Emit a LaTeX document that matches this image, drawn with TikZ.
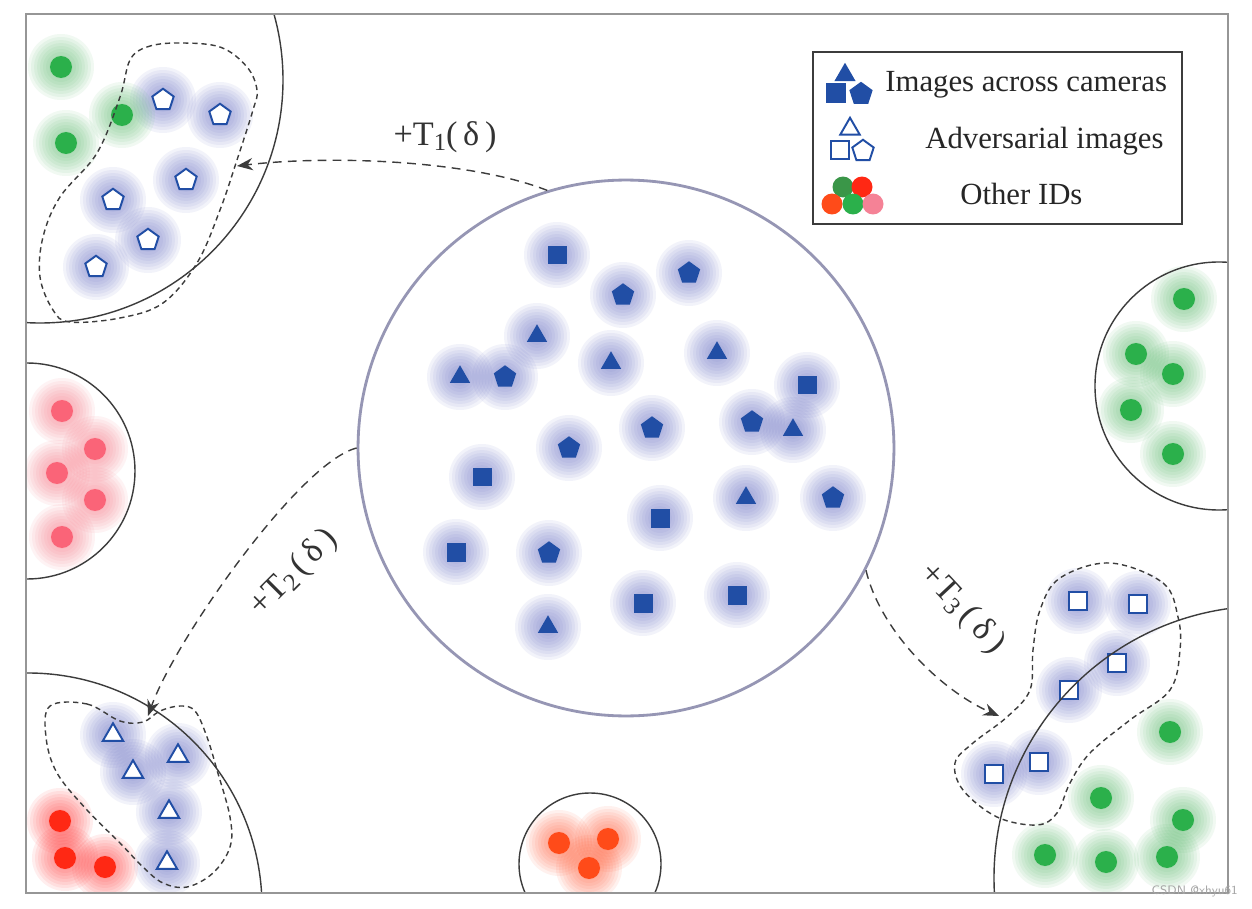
\documentclass[tikz,border=0pt]{standalone}
\usepackage{fontspec}
\setmainfont{Liberation Serif}
\usetikzlibrary{shapes.geometric,arrows.meta}
\definecolor{mblue}{RGB}{33,78,165}
\definecolor{hblue}{RGB}{115,120,200}
\definecolor{mgreen}{RGB}{43,176,75}
\definecolor{dgreen}{RGB}{58,150,72}
\definecolor{hgreen}{RGB}{95,190,115}
\definecolor{mred}{RGB}{255,40,20}
\definecolor{hred}{RGB}{255,60,60}
\definecolor{mpink}{RGB}{250,100,120}
\definecolor{hpink}{RGB}{250,120,135}
\definecolor{morange}{RGB}{255,75,25}
\definecolor{horange}{RGB}{255,100,60}
\definecolor{lpink}{RGB}{245,130,150}
\definecolor{ccirc}{RGB}{150,150,180}
\definecolor{dline}{RGB}{60,60,60}
\definecolor{framec}{RGB}{150,150,150}
\newcommand\glow[3]{\foreach \rr in {33,30,27,24,21,18,15,12,9}{\fill[#1,opacity=0.085] (#2,#3) circle[radius=\rr];}}
\tikzset{
  sq/.style={rectangle, minimum size=3.8mm, inner sep=0pt, fill=mblue},
  pent/.style={regular polygon, regular polygon sides=5, minimum size=4.7mm, inner sep=0pt, fill=mblue},
  tri/.style={regular polygon, regular polygon sides=3, minimum size=4.7mm, inner sep=0pt, fill=mblue},
  osq/.style={rectangle, minimum size=3.6mm, inner sep=0pt, fill=white, draw=mblue, line width=1.1pt},
  opent/.style={regular polygon, regular polygon sides=5, minimum size=4.5mm, inner sep=0pt, fill=white, draw=mblue, line width=1.1pt},
  otri/.style={regular polygon, regular polygon sides=3, minimum size=4.7mm, inner sep=0pt, fill=white, draw=mblue, line width=1.1pt},
  dot/.style={circle, minimum size=4.4mm, inner sep=0pt, fill=#1},
  bline/.style={draw=dline, line width=0.8pt},
  blob/.style={draw=dline, line width=0.8pt, dash pattern=on 3pt off 2.2pt},
  conn/.style={draw=dline, line width=0.8pt, dash pattern=on 5pt off 3.5pt, -{Stealth[length=9pt,width=7pt]}},
  lbl/.style={text=black!80, font=\fontsize{19.5}{22}\selectfont, inner sep=0pt},
  legt/.style={anchor=west, text=black!85, font=\fontsize{17.5}{20}\selectfont, inner sep=0pt},
}
\newcommand\Tlab[2]{+T\raisebox{-0.3ex}{\fontsize{14}{14}\selectfont #1}#2(\,δ\,)}
\begin{document}
\begin{tikzpicture}[x=0.02cm, y=-0.02cm]
\useasboundingbox (0,0) rectangle (1252,909);
\fill[white] (0,0) rectangle (1252,909);
\begin{scope}
\clip (26,14) rectangle (1228,893);
% glows
\foreach \x/\y in {557/255,807/385,482/477,660/518,456/552,643/603,737/595,
  623/295,689/273,505/377,569/448,652/428,752/422,833/498,549/553,
  537/336,460/377,611/363,717/353,793/430,746/498,548/627,
  163/100,220/115,186/180,113/200,148/240,96/267,
  113/735,178/756,133/772,169/812,167/863,
  1078/601,1138/604,1117/663,1069/690,1039/762,994/774}{\glow{hblue}{\x}{\y}}
\foreach \x/\y in {61/67,122/115,66/143,
  1170/732,1101/798,1183/820,1045/855,1106/862,1167/857,
  1184/299,1136/354,1173/374,1131/410,1173/454}{\glow{hgreen}{\x}{\y}}
\foreach \x/\y in {60/821,65/858,105/867}{\glow{hred}{\x}{\y}}
\foreach \x/\y in {62/411,95/449,57/473,95/500,62/537}{\glow{hpink}{\x}{\y}}
\foreach \x/\y in {559/843,608/839,589/868}{\glow{horange}{\x}{\y}}
% central cluster
\node[circle, draw=ccirc, line width=1.6pt, minimum size=107.2mm, inner sep=0pt] (c0) at (626,448) {};
\foreach \x/\y [count=\i] in {557/255,807/385,482/477,660/518,456/552,643/603,737/595}
  {\node[sq] (s\i) at (\x,\y) {};}
\foreach \x/\y [count=\i] in {623/295,689/273,505/377,569/448,652/428,752/422,833/498,549/553}
  {\node[pent] (p\i) at (\x,\y) {};}
\foreach \x/\y [count=\i] in {537/336,460/377,611/363,717/353,793/430,746/498,548/627}
  {\node[tri] (t\i) at (\x,\y) {};}
% other IDs
\foreach \x/\y [count=\i] in {61/67,122/115,66/143,
  1170/732,1101/798,1183/820,1045/855,1106/862,1167/857,
  1184/299,1136/354,1173/374,1131/410,1173/454}
  {\node[dot=mgreen] (g\i) at (\x,\y) {};}
\foreach \x/\y [count=\i] in {60/821,65/858,105/867}
  {\node[dot=mred] (r\i) at (\x,\y) {};}
\foreach \x/\y [count=\i] in {62/411,95/449,57/473,95/500,62/537}
  {\node[dot=mpink] (k\i) at (\x,\y) {};}
\foreach \x/\y [count=\i] in {559/843,608/839,589/868}
  {\node[dot=morange] (o\i) at (\x,\y) {};}
% adversarial images
\foreach \x/\y [count=\i] in {163/100,220/115,186/180,113/200,148/240,96/267}
  {\node[opent] (ap\i) at (\x,\y) {};}
\foreach \x/\y [count=\i] in {113/735,178/756,133/772,169/812,167/863}
  {\node[otri] (at\i) at (\x,\y) {};}
\foreach \x/\y [count=\i] in {1078/601,1138/604,1117/663,1069/690,1039/762,994/774}
  {\node[osq] (as\i) at (\x,\y) {};}
% ID circles
\draw[bline] (40,80) circle[radius=243];
\draw[bline] (27,471) circle[radius=108];
\draw[bline] (1219,386) circle[radius=124];
\draw[bline] (28,907) circle[radius=234];
\draw[bline] (590,864) circle[radius=71];
\draw[bline] (1266,878) circle[radius=272];
% dashed blobs
\draw[blob] plot[smooth cycle, tension=0.6] coordinates {(130,60) (147,47) (177,43) (220,47) (247,67) (257,90) (253,110) (237,160) (220,210) (197,263) (163,303) (120,318) (70,322) (53,310) (40,277) (43,237) (60,197) (97,153) (120,97)};
\draw[blob] plot[smooth cycle, tension=0.6] coordinates {(50,706) (87,704) (120,721) (143,722) (160,711) (180,706) (195,711) (207,737) (217,770) (230,817) (230,847) (213,873) (187,887) (163,883) (143,867) (120,843) (87,810) (57,773) (46,737)};
\draw[blob] plot[smooth cycle, tension=0.6] coordinates {(1110,563) (1163,583) (1178,617) (1180,650) (1170,690) (1130,720) (1090,753) (1070,783) (1057,813) (1037,825) (997,817) (963,790) (955,763) (973,743) (1007,717) (1030,690) (1033,650) (1040,610) (1060,578)};
% connectors
\coordinate (e1) at (237,166);
\coordinate (e2) at (148,716);
\coordinate (e3) at (999,716);
\draw[conn] (c0.107) .. controls (470,160) and (330,155) .. (e1);
\draw[conn] (c0.180) .. controls (300,462) and (175,640) .. (e2);
\draw[conn] (c0.-27) .. controls (880,630) and (940,690) .. (e3);
\end{scope}
% labels
\node[lbl] (l1) at (445,137) {\Tlab{1}{}};
\node[lbl, rotate=45] (l2) at (294,573) {\Tlab{2}{\,}};
\node[lbl, rotate=-47] (l3) at (962,609) {\Tlab{3}{\,}};
% frame
\draw[framec, line width=1pt] (26,14) rectangle (1228,893);
% legend
\node[draw=dline, line width=1.2pt, minimum width=73.8mm, minimum height=34.4mm, inner sep=0pt] (leg) at (997.5,138) {};
\node[tri, minimum size=4.9mm] (lt1) at (845,75) {};
\node[sq, minimum size=4.0mm] (ls1) at (836,93) {};
\node[pent, minimum size=4.9mm] (lp1) at (861,94) {};
\node[otri, minimum size=4.5mm] (lt2) at (850,129) {};
\node[osq, minimum size=3.6mm] (ls2) at (840,150) {};
\node[opent, minimum size=4.5mm] (lp2) at (863,151) {};
\node[dot=dgreen, minimum size=4.2mm] (lc1) at (843,187) {};
\node[dot=mred, minimum size=4.2mm] (lc2) at (862,187) {};
\node[dot=morange, minimum size=4.2mm] (lc3) at (832,204) {};
\node[dot=mgreen, minimum size=4.2mm] (lc4) at (853,204) {};
\node[dot=lpink, minimum size=4.2mm] (lc5) at (873,204) {};
\node[legt] (lg1) at (885,85) {Images across cameras};
\node[legt] (lg2) at (925,141) {Adversarial images};
\node[legt] (lg3) at (960,194) {Other IDs};
% watermark
\node[anchor=east, text=black!35, font=\sffamily\fontsize{7}{8}\selectfont, inner sep=0pt] (wm) at (1238,891) {CSDN @xhyu61};
\end{tikzpicture}
\end{document}
